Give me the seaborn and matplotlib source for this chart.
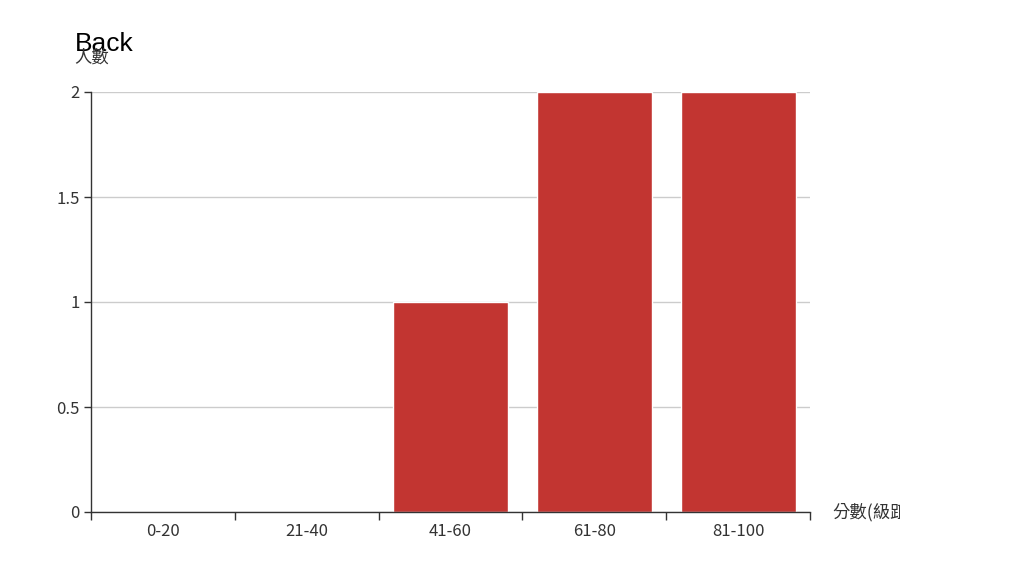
import numpy as np
import pandas as pd
import matplotlib
matplotlib.use('Agg')
import matplotlib.pyplot as plt
import seaborn as sns
from matplotlib.transforms import Bbox

# data
ranges = ['0-20', '21-40', '41-60', '61-80', '81-100']
counts = [0, 0, 1, 2, 2]
y_ticks = [0, 0.5, 1, 1.5, 2]
y_tick_labels = ['0', '0.5', '1', '1.5', '2']

df = pd.DataFrame({'range': ranges, 'count': counts})

sns.set_style('white')
plt.rcParams['font.family'] = ['Noto Sans CJK TC', 'DejaVu Sans']

fig = plt.figure(figsize=(10.24, 5.81), dpi=100)
ax = fig.add_axes([91/1024, 1-512/581, 719/1024, 420/581])

sns.barplot(data=df, x='range', y='count', color='#c23531', width=0.8,
            saturation=1, ax=ax)

ax.set_xlim(-0.5, 4.5)
ax.set_ylim(0, 2)
ax.set_yticks(y_ticks)
ax.set_yticklabels(y_tick_labels)
ax.yaxis.grid(True, color='#cccccc', linewidth=1)
ax.set_axisbelow(True)

# category boundaries get the tick marks, labels sit in the middle
ax.set_xticks(np.arange(-0.5, 5, 1))
ax.set_xticklabels([])
ax.set_xticks(np.arange(5), minor=True)
ax.set_xticklabels(ranges, minor=True)
ax.tick_params(axis='x', which='major', length=6, color='#333333', width=1, direction='out', bottom=True)
ax.tick_params(axis='x', which='minor', length=0, pad=8, labelsize=12, labelcolor='#333333')
ax.tick_params(axis='y', length=5, color='#333333', width=1, direction='out', left=True,
               labelsize=12, labelcolor='#333333', pad=3)

for s in ['top', 'right']:
    ax.spines[s].set_visible(False)
for s in ['left', 'bottom']:
    ax.spines[s].set_color('#333333')
    ax.spines[s].set_linewidth(1)

ax.set_xlabel('')
ax.set_ylabel('')

fig.text(75/1024, 1-44/581, 'Back', fontsize=19, color='black', va='center', ha='left',
         family=['Liberation Sans', 'DejaVu Sans'])
fig.text(74/1024, 1-58/581, '人數', fontsize=12.5, color='#333333', va='center', ha='left')
xl = fig.text(832/1024, 1-512/581, '分數(級距)', fontsize=12.5, color='#333333',
              va='center', ha='left')
xl.set_clip_box(Bbox([[0, 0], [900, 581]]))
xl.set_clip_on(True)

fig.savefig('out.png', dpi=100)
